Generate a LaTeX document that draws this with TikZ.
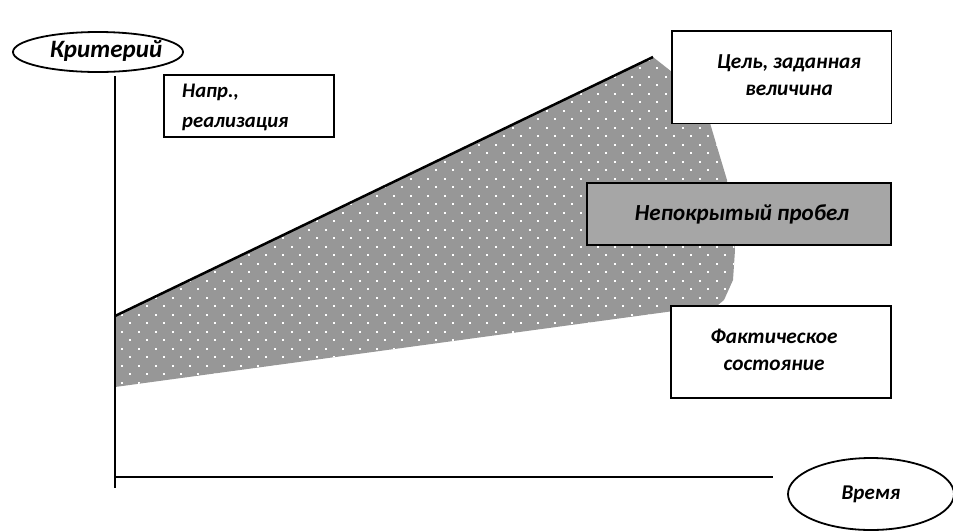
\documentclass[tikz,border=0pt]{standalone}
\usepackage{fontspec}
\setmainfont{Carlito}
\usetikzlibrary{shapes.geometric}

\definecolor{gapgray}{HTML}{979797}
\definecolor{boxgray}{HTML}{A6A6A6}

\tikzset{
  axisline/.style={line width=2.5pt},
  labelbox/.style={draw, line width=1.8pt, fill=white, inner sep=0pt},
  labeltext/.style={inner sep=0pt, align=center,
    font=\bfseries\itshape\fontsize{21.3}{27}\selectfont},
  oval/.style={draw, ellipse, line width=1.8pt, fill=white, inner sep=0pt,
    font=\bfseries\itshape\fontsize{21}{24}\selectfont},
}

\begin{document}
\begin{tikzpicture}[x=1pt, y=-1pt]
        \useasboundingbox (0,0) rectangle (953,531);

        % the uncovered gap, grey with white dots
        \begin{scope}
        \clip (115,316) -- (653,57) -- (672,72) -- (695,100) -- (710,123)
          -- (718,150) -- (727,180) -- (731,215) -- (735,250) -- (733,280)
          -- (724,300) -- (718,305) -- (115,387) -- cycle;
        \fill[gapgray] (100,40) rectangle (760,400);
        \foreach \r [evaluate=\r as \dy using 50+8.5*\r,
                     evaluate=\r as \sh using {mod(\r,2)*8.5}] in {0,...,41}
          \foreach \c in {0,...,38}
            \fill[white] ({112+17*\c+\sh},\dy) rectangle ++(2.4,2.4);
        \end{scope}

        % target line
        \coordinate (tstart) at (115,316);
        \coordinate (tend) at (653,57);
        \draw[axisline] (tstart) -- (tend);

        % axes
        \coordinate (ytop) at (115,76);
        \coordinate (ybot) at (115,488);
        \coordinate (xleft) at (115,477);
        \coordinate (xright) at (773,477);
        \draw[axisline] (ytop) -- (ybot);
        \draw[axisline] (xleft) -- (xright);

        \node[oval, minimum width=170, minimum height=40] (crit) at (98,52) {};
        \node[labeltext, font=\bfseries\itshape\fontsize{25}{28}\selectfont]
          (crittext) at (106,51) {Критерий};
        \node[oval, minimum width=166, minimum height=72] (time) at (871,494) {Время};

        \node[labelbox, minimum width=170, minimum height=62] (impl) at (249,106) {};
        \node[labeltext, align=left, anchor=west, font=\bfseries\itshape\fontsize{20.7}{30}\selectfont]
          (impltext) at (182,107) {Напр.,\\реализация};

        % thin frame, heavier on top and left
        \node[labelbox, line width=1pt, minimum width=219, minimum height=92] (goal) at (781.5,77) {};
        \draw[line width=2pt] (goal.south west) -- (goal.north west) -- (goal.north east);
        \node[labeltext] (goaltext) at (789,75) {Цель, заданная\\величина};

        \node[labelbox, fill=boxgray, minimum width=304, minimum height=62] (gap) at (739,214) {};
        \node[labeltext, font=\bfseries\itshape\fontsize{23}{27}\selectfont]
          (gaptext) at (742,214) {Непокрытый пробел};

        \node[labelbox, minimum width=220, minimum height=92] (actual) at (781,352) {};
        \node[labeltext] (actualtext) at (774,350) {Фактическое\\состояние};

\end{tikzpicture}
\end{document}
